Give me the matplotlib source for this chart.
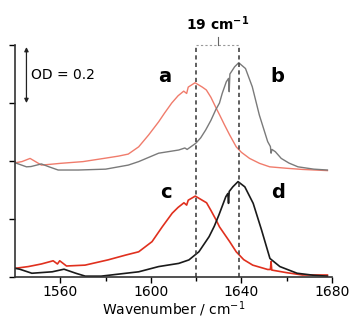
import numpy as np
import matplotlib
matplotlib.use("Agg")
import matplotlib.pyplot as plt

# spectra (wavenumber / cm-1, OD with offset)
wn_a = [1540, 1543, 1546.6, 1549, 1551.6, 1556, 1560, 1570, 1580, 1585.7, 1590, 1594.6,
        1599, 1603.4, 1606, 1609.2, 1612, 1614.5, 1615.8, 1616.5, 1619.5, 1622.7, 1624.5,
        1626.5, 1628.8, 1630.3, 1632.5, 1634.8, 1637.7, 1640, 1643.6, 1648, 1652.5,
        1660, 1667, 1678]
od_a = [0.394, 0.398, 0.409, 0.398, 0.386, 0.389, 0.392, 0.398, 0.41, 0.417, 0.424, 0.449,
        0.49, 0.535, 0.565, 0.6, 0.625, 0.641, 0.633, 0.655, 0.670, 0.655, 0.645,
        0.62, 0.583, 0.56, 0.525, 0.49, 0.449, 0.43, 0.409, 0.392, 0.380,
        0.375, 0.371, 0.367]

wn_b = [1540, 1545, 1547, 1551.6, 1555, 1559, 1568, 1580, 1585.7, 1590, 1594.6, 1603.4,
        1612.3, 1615, 1616, 1619.8, 1622, 1624.2, 1626.5, 1628.6, 1630.3, 1631.5, 1633.3,
        1634.3, 1634.6, 1634.9, 1637, 1638.8, 1641.8, 1644.8, 1647.9, 1651.6, 1652.8,
        1653.1, 1653.5, 1655, 1657.6, 1661, 1665, 1672, 1678]
od_b = [0.394, 0.380, 0.381, 0.39, 0.38, 0.369, 0.369, 0.372, 0.38, 0.386, 0.398, 0.427,
        0.438, 0.445, 0.44, 0.461, 0.48, 0.507, 0.54, 0.576, 0.60, 0.633, 0.673,
        0.685, 0.639, 0.70, 0.725, 0.739, 0.719, 0.656, 0.559, 0.467, 0.45,
        0.427, 0.44, 0.432, 0.409, 0.393, 0.380, 0.372, 0.369]

wn_c = [1540, 1545.8, 1551.6, 1556.8, 1558.7, 1559.7, 1562.7, 1570.9, 1581, 1589, 1594.6,
        1600.5, 1605, 1609.4, 1612, 1614.6, 1615.8, 1616.5, 1619.6, 1622, 1624.6, 1626.5,
        1628.8, 1630.3, 1634.8, 1637.7, 1641, 1645, 1651.6, 1652.8, 1653.1, 1653.4, 1660,
        1667, 1678]
od_c = [0.030, 0.036, 0.045, 0.056, 0.045, 0.056, 0.038, 0.041, 0.059, 0.076, 0.087,
        0.122, 0.173, 0.22, 0.24, 0.256, 0.248, 0.265, 0.279, 0.268, 0.256, 0.23,
        0.197, 0.173, 0.122, 0.087, 0.06, 0.041, 0.026, 0.026, 0.053, 0.024, 0.015,
        0.007, 0.007]

wn_d = [1540, 1542, 1547.4, 1556.4, 1561.6, 1566.8, 1571, 1578, 1585.7, 1589, 1594.6,
        1603.4, 1612.3, 1616.8, 1621.2, 1625.7, 1628, 1630.1, 1633.1, 1634, 1634.3,
        1634.6, 1636.2, 1638.5, 1641.5, 1645.2, 1648.9, 1652.6, 1657, 1664.6, 1672, 1678]
od_d = [0.030, 0.027, 0.013, 0.018, 0.027, 0.013, 0.003, 0.003, 0.010, 0.013, 0.018,
        0.036, 0.047, 0.059, 0.087, 0.139, 0.175, 0.215, 0.277, 0.288, 0.254,
        0.295, 0.311, 0.329, 0.311, 0.254, 0.162, 0.064, 0.036, 0.013, 0.006, 0.003]

peak_lines = [1620, 1639]
shift_text = "19 cm$^{\\mathbf{-1}}$"

fig = plt.figure(figsize=(3.52, 3.24), dpi=100)
ax = fig.add_axes([0.043, 0.145, 0.9, 0.716])

ax.plot(wn_a, od_a, color="#f07c6c", lw=1.0)
ax.plot(wn_b, od_b, color="#7a7a7a", lw=1.0)
ax.plot(wn_c, od_c, color="#e0301e", lw=1.2)
ax.plot(wn_d, od_d, color="#1a1a1a", lw=1.2)

# dashed guide lines + bracket
for w in peak_lines:
    ax.plot([w, w], [0, 0.8], color="#444444", lw=1.2, ls=(0, (2.5, 2)), clip_on=False)
ax.plot(peak_lines, [0.8, 0.8], color="#999999", lw=0.8, ls=(0, (2, 2)), clip_on=False)
mid = sum(peak_lines) / 2
ax.plot([mid, mid], [0.8, 0.828], color="#666666", lw=0.8, clip_on=False)
ax.text(mid, 0.875, shift_text, ha="center", va="center", fontsize=10,
        fontweight="bold", clip_on=False)

# scale bar
ax.annotate("", xy=(1545, 0.6), xytext=(1545, 0.793),
            arrowprops=dict(arrowstyle="<|-|>", color="#222222", lw=0.9,
                            mutation_scale=6, shrinkA=0, shrinkB=0))
ax.text(1546.8, 0.697, "OD = 0.2", ha="left", va="center", fontsize=10)

for lbl, x, y in [("a", 1606, 0.69), ("b", 1656, 0.69), ("c", 1606.7, 0.29), ("d", 1656, 0.293)]:
    ax.text(x, y, lbl, ha="center", va="center", fontsize=14, fontweight="bold")

ax.set_xlim(1540, 1680)
ax.set_ylim(0, 0.8)
ax.set_xticks([1560, 1600, 1640, 1680])
ax.set_xticks([1580, 1620, 1660], minor=True)
ax.set_yticks([0, 0.2, 0.4, 0.6, 0.8])
ax.set_yticklabels([])
ax.tick_params(axis="x", which="major", direction="out", length=4, width=1, labelsize=10, pad=2)
ax.tick_params(axis="x", which="minor", direction="out", length=3, width=1)
ax.tick_params(axis="y", direction="out", length=4, width=1)
ax.spines["top"].set_visible(False)
ax.spines["right"].set_visible(False)
for s in ["left", "bottom"]:
    ax.spines[s].set_color("#333333")
    ax.spines[s].set_linewidth(1.2)
ax.set_xlabel("Wavenumber / cm$^{-1}$", fontsize=10, labelpad=0)

fig.savefig("out.png", dpi=100)
